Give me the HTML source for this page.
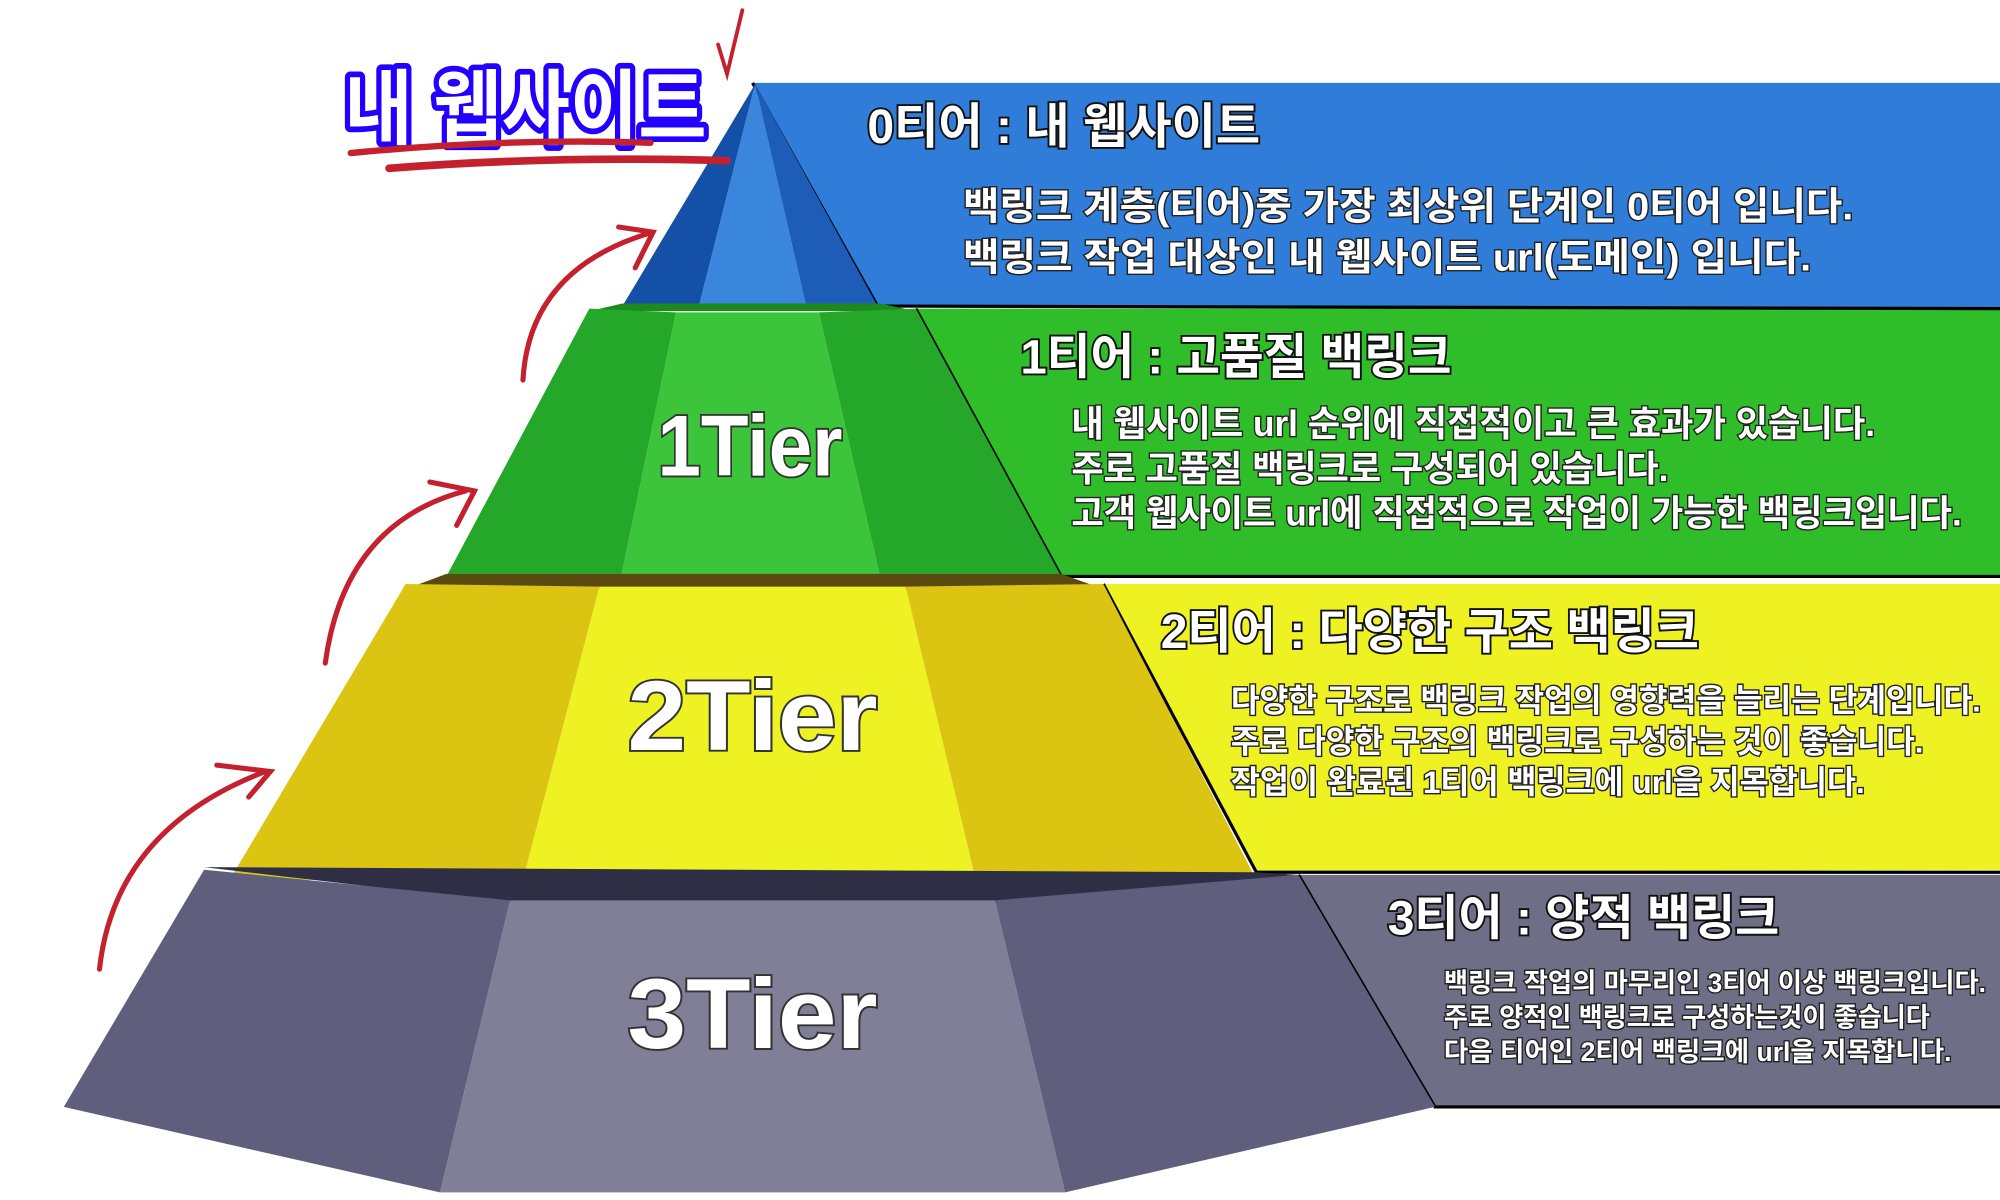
<!DOCTYPE html>
<html><head><meta charset="utf-8"><style>
html,body{margin:0;padding:0;background:#fff;width:2000px;height:1200px;overflow:hidden}
svg{display:block}
text{font-family:"Liberation Sans","Noto Sans CJK KR",sans-serif;font-weight:bold}
.t{fill:#fff;stroke:#111;stroke-width:3;paint-order:stroke}
.b{fill:#fff;stroke:#222;stroke-width:2.2;paint-order:stroke}
.tier{fill:#fff;stroke:#333;stroke-width:3;paint-order:stroke;text-anchor:middle}
</style></head><body>
<svg width="2000" height="1200" viewBox="0 0 1568 941" preserveAspectRatio="none" xmlns="http://www.w3.org/2000/svg">
<polygon points="590,65 1568,65 1568,242 688,240" fill="#2f7dd9"/>
<polygon points="718,242 1568,242 1568,452 832,452" fill="#2fbd2a"/>
<polygon points="865,458 1568,458 1568,682 985,684" fill="#eef122"/>
<polygon points="1018,686 1568,686 1568,868 1125,868" fill="#6f6e87"/>
<g stroke="#000" stroke-width="2.5" fill="none">
<path d="M590,65 L688,240 L1568,242"/>
<path d="M718,242 L832,452 L1568,452"/>
<path d="M865,458 L985,684 L1568,684"/>
<path d="M1018,686 L1125,868 L1568,868"/>
</g>
<polygon points="592,66 488,240 548,240" fill="#1450a8"/>
<polygon points="592,66 548,240 632,240" fill="#3a86dc"/>
<polygon points="592,66 632,240 688,240" fill="#1d5db8"/>
<polygon points="488,238 690,238 718,244 462,244" fill="#1e8a1e"/>
<polygon points="462,242 530,245 487,452 350,452" fill="#25a82a"/>
<polygon points="530,245 642,245 690,452 487,452" fill="#3cc43a"/>
<polygon points="642,245 718,242 832,452 690,452" fill="#25a82a"/>
<polygon points="350,450 832,450 865,462 318,462" fill="#5a4a10"/>
<polygon points="318,458 470,460 410,690 180,690" fill="#dcc412"/>
<polygon points="470,460 710,460 765,690 410,690" fill="#eef122"/>
<polygon points="710,460 865,458 985,690 765,690" fill="#dcc412"/>
<polygon points="160,680 985,684 1018,686 780,708 400,708" fill="#2e2e44"/>
<polygon points="160,682 400,706 345,935 50,868" fill="#5f5f7d"/>
<polygon points="400,706 780,706 835,935 345,935" fill="#807f97"/>
<polygon points="780,706 1018,686 1125,868 835,935" fill="#5f5f7d"/>
<text class="tier" x="588" y="373" font-size="68" textLength="145" lengthAdjust="spacingAndGlyphs">1Tier</text>
<text class="tier" x="590" y="588" font-size="78" textLength="196" lengthAdjust="spacingAndGlyphs">2Tier</text>
<text class="tier" x="590" y="822" font-size="78" textLength="196" lengthAdjust="spacingAndGlyphs">3Tier</text>
<text class="t" x="680" y="112" font-size="38" textLength="308" lengthAdjust="spacingAndGlyphs">0티어 : 내 웹사이트</text>
<text class="b" x="755" y="172" font-size="30" textLength="698" lengthAdjust="spacingAndGlyphs">백링크 계층(티어)중 가장 최상위 단계인 0티어 입니다.</text>
<text class="b" x="755" y="212" font-size="30" textLength="665" lengthAdjust="spacingAndGlyphs">백링크 작업 대상인 내 웹사이트 url(도메인) 입니다.</text>
<text class="t" x="800" y="293" font-size="38" textLength="338" lengthAdjust="spacingAndGlyphs">1티어 : 고품질 백링크</text>
<text class="b" x="840" y="342" font-size="28" textLength="630" lengthAdjust="spacingAndGlyphs">내 웹사이트 url 순위에 직접적이고 큰 효과가 있습니다.</text>
<text class="b" x="840" y="377" font-size="28" textLength="468" lengthAdjust="spacingAndGlyphs">주로 고품질 백링크로 구성되어 있습니다.</text>
<text class="b" x="840" y="412" font-size="28" textLength="698" lengthAdjust="spacingAndGlyphs">고객 웹사이트 url에 직접적으로 작업이 가능한 백링크입니다.</text>
<text class="t" x="910" y="508" font-size="38" textLength="422" lengthAdjust="spacingAndGlyphs">2티어 : 다양한 구조 백링크</text>
<text class="b" x="965" y="558" font-size="25" textLength="588" lengthAdjust="spacingAndGlyphs">다양한 구조로 백링크 작업의 영향력을 늘리는 단계입니다.</text>
<text class="b" x="965" y="590" font-size="25" textLength="543" lengthAdjust="spacingAndGlyphs">주로 다양한 구조의 백링크로 구성하는 것이 좋습니다.</text>
<text class="b" x="965" y="622" font-size="25" textLength="497" lengthAdjust="spacingAndGlyphs">작업이 완료된 1티어 백링크에 url을 지목합니다.</text>
<text class="t" x="1088" y="733" font-size="38" textLength="307" lengthAdjust="spacingAndGlyphs">3티어 : 양적 백링크</text>
<text class="b" x="1132" y="778" font-size="21" textLength="425" lengthAdjust="spacingAndGlyphs">백링크 작업의 마무리인 3티어 이상 백링크입니다.</text>
<text class="b" x="1132" y="805" font-size="21" textLength="381" lengthAdjust="spacingAndGlyphs">주로 양적인 백링크로 구성하는것이 좋습니다</text>
<text class="b" x="1132" y="832" font-size="21" textLength="398" lengthAdjust="spacingAndGlyphs">다음 티어인 2티어 백링크에 url을 지목합니다.</text>
<text x="270" y="108" font-size="64" fill="#fff" stroke="#2200ff" stroke-width="9" paint-order="stroke" stroke-linejoin="round" textLength="284" lengthAdjust="spacingAndGlyphs">내 웹사이트</text>
<g stroke="#c4202e" fill="none" stroke-linecap="round">
<path d="M275,120 Q400,108 510,112" stroke-width="5"/>
<path d="M305,132 Q430,122 570,126" stroke-width="6"/>
<path d="M563,35 L570,58 L582,8" stroke-width="3"/>
<path d="M78,760 Q90,650 208,605" stroke-width="4"/>
<path d="M170,600 L212,605 L195,625" stroke-width="4"/>
<path d="M255,520 Q270,410 365,385" stroke-width="4"/>
<path d="M337,378 L372,385 L358,412" stroke-width="4"/>
<path d="M410,298 Q415,210 512,182" stroke-width="4"/>
<path d="M485,178 L512,182 L498,210" stroke-width="4"/>
</g>
</svg>
</body></html>
